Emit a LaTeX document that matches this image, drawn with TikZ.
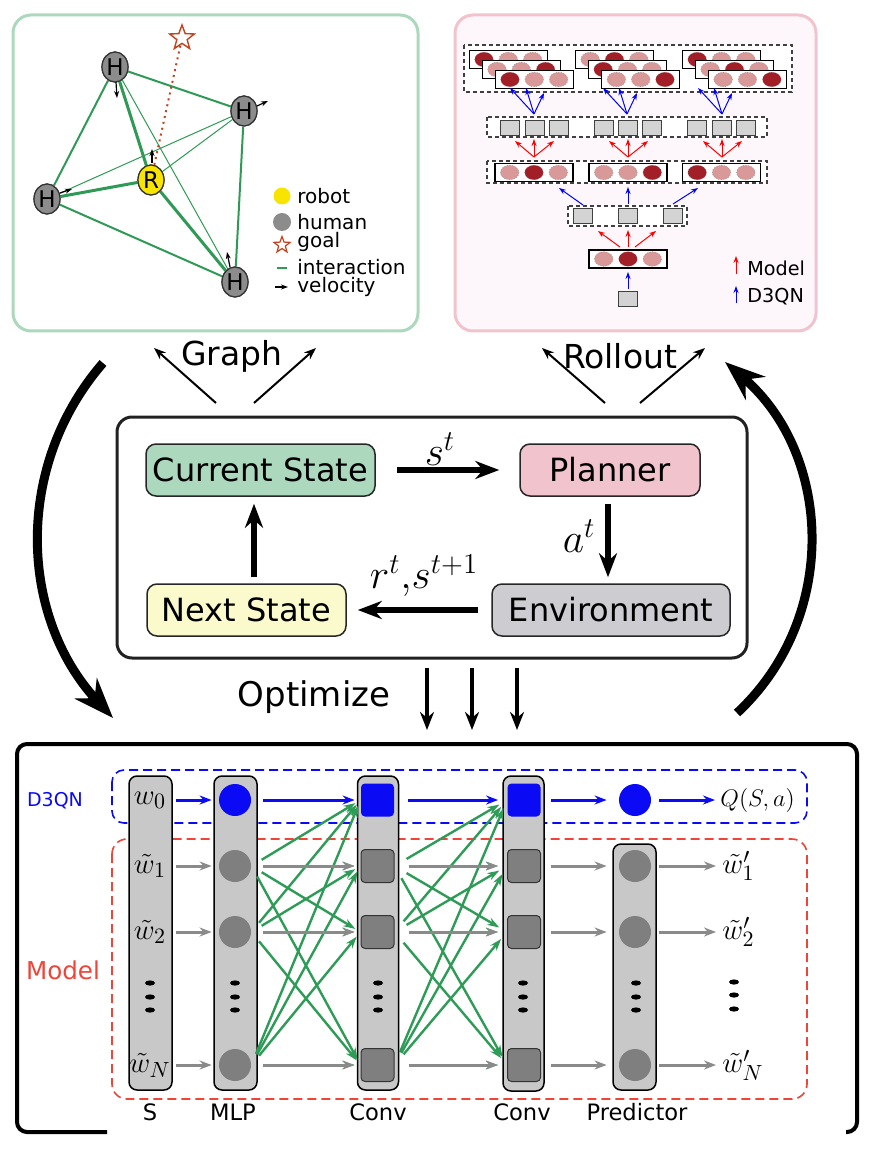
\documentclass[tikz,border=0pt]{standalone}
\usepackage{fontspec}
\setmainfont{DejaVu Sans}
\usetikzlibrary{arrows.meta,shapes.geometric,calc}
\definecolor{pgreen}{HTML}{ACD8BE}
\definecolor{ppink}{HTML}{F1C3CC}
\definecolor{pbg}{HTML}{FDF7FB}
\definecolor{nyellow}{HTML}{FAFACD}
\definecolor{ngray}{HTML}{CDCDD1}
\definecolor{egreen}{HTML}{2F9A55}
\definecolor{hgray}{HTML}{8C8C8C}
\definecolor{ryellow}{HTML}{F7E400}
\definecolor{goalred}{HTML}{C4421C}
\definecolor{rdark}{HTML}{A31F27}
\definecolor{rlight}{HTML}{D99999}
\definecolor{sqgray}{HTML}{D3D3D3}
\definecolor{colgray}{HTML}{C8C8C8}
\definecolor{nodegray}{HTML}{7F7F7F}
\definecolor{arrgray}{HTML}{8A8A8A}
\definecolor{qblue}{HTML}{0A0AF5}
\definecolor{mred}{HTML}{F04438}
\definecolor{dgreen}{HTML}{2E9B57}
\newcommand\rlbox[3]{%
  \draw[fill=white,draw=black,line width=0.6pt] (#1-39,#2-9) rectangle (#1+39,#2+9);
  \foreach \k in {1,2,3}{%
    \ifnum\k=#3\relax\def\cc{rdark}\else\def\cc{rlight}\fi
    \draw[fill=\cc,draw=black!45,line width=0.3pt,densely dotted] (#1+\k*24.3-48.6,#2) ellipse [x radius=9.3,y radius=7.3];
  }}
\newcommand\rlsq[2]{\draw[fill=sqgray,draw=black!75,line width=0.6pt] (#1-9.5,#2-7.5) rectangle (#1+9.5,#2+7.5);}
\begin{document}
\begin{tikzpicture}[x=0.5pt,y=-0.5pt,
  hnode/.style={ellipse,draw=black!80,line width=0.6pt,fill=hgray,minimum width=13pt,minimum height=15pt,inner sep=0pt,font=\fontsize{11.5}{13}\selectfont},
  ethick/.style={egreen,line width=1.5pt},
  emed/.style={egreen,line width=1pt},
  ethin/.style={egreen,line width=0.5pt},
  vel/.style={black,line width=0.6pt,-{Stealth[length=3.5pt,width=2.5pt]}},
  leg/.style={anchor=west,inner sep=0pt,font=\fontsize{10}{12}\selectfont},
  rldash/.style={dashed,dash pattern=on 2pt off 1.5pt,draw=black!75,line width=0.6pt,fill=white},
  ra/.style={draw=red,line width=0.5pt,-{Stealth[length=3.5pt,width=2.5pt]}},
  ba/.style={draw=blue,line width=0.5pt,-{Stealth[length=3.5pt,width=2.5pt]}},
  sbox/.style={draw=black!85,line width=0.75pt,rounded corners=5pt,minimum height=26pt,inner sep=0pt,font=\fontsize{16}{19}\selectfont},
  thk/.style={line width=3pt,-{Stealth[length=12pt,width=9pt]}},
  thin/.style={line width=1pt,-{Stealth[length=6pt,width=4.5pt]}},
  bigarc/.style={line width=4.5pt,-{Stealth[length=20pt,width=15pt]}},
  mlab/.style={font=\fontsize{20}{24}\selectfont,inner sep=0pt},
  bigtxt/.style={font=\fontsize{16.5}{19}\selectfont,inner sep=0pt},
  col/.style={draw=black,line width=0.75pt,fill=colgray,rounded corners=4pt,inner sep=0pt},
  bcirc/.style={circle,fill=qblue,minimum size=16pt,inner sep=0pt},
  gcirc/.style={circle,fill=nodegray,minimum size=16pt,inner sep=0pt},
  bsq/.style={rectangle,fill=qblue,rounded corners=2pt,minimum size=16.5pt,inner sep=0pt},
  gsq/.style={rectangle,fill=nodegray,draw=black!80,line width=0.5pt,rounded corners=2pt,minimum size=16.5pt,inner sep=0pt},
  wlab/.style={font=\fontsize{15}{18}\selectfont,inner sep=0pt},
  olab/.style={font=\fontsize{15}{18}\selectfont,inner sep=0pt,anchor=west},
  barr/.style={draw=qblue,line width=1.5pt,-{Stealth[length=6pt,width=4.5pt]}},
  garr/.style={draw=arrgray,line width=1.5pt,-{Stealth[length=6pt,width=4.5pt]}},
  grarr/.style={draw=dgreen,line width=1.2pt,-{Stealth[length=6pt,width=4pt]}},
  blab/.style={font=\fontsize{11.3}{13}\selectfont,inner sep=0pt}
]
\useasboundingbox (0,0) rectangle (877,1154);

% ---------------- Graph panel ----------------
\draw[draw=pgreen,line width=1.5pt,rounded corners=9pt,fill=white] (13,15) rectangle (418,331);
\node[hnode] (h1) at (115,67) {H};
\node[hnode] (h2) at (244,111) {H};
\node[hnode] (h3) at (47,199) {H};
\node[hnode] (h4) at (235,282) {H};
\node[hnode,fill=ryellow] (r) at (151,180) {R};
\node[star,star points=5,star point ratio=2.4,draw=goalred,line width=0.7pt,minimum size=13pt,inner sep=0pt] (goal) at (182,38) {};
\draw[emed] (h1) -- (h2);
\draw[emed] (h1) -- (h3);
\draw[ethick] (h1) -- (r);
\draw[ethin] (h1) -- (h4);
\draw[ethin] (h2) -- (h3);
\draw[ethin] (h2) -- (r);
\draw[emed] (h2) -- (h4);
\draw[ethick] (h3) -- (r);
\draw[emed] (h3) -- (h4);
\draw[ethick] (r) -- (h4);
\draw[goalred,dotted,line width=1pt] (r) -- (goal);
\node[hnode] at (h1) {H};
\node[hnode] at (h2) {H};
\node[hnode] at (h3) {H};
\node[hnode] at (h4) {H};
\node[hnode,fill=ryellow] at (r) {R};
\draw[vel] ($(h1)+(1,15)$) -- ++(1,16);
\draw[vel] ($(h2)+(13,-5)$) -- ++(11,-5);
\draw[vel] ($(h3)+(13,-6)$) -- ++(12,-4);
\draw[vel] ($(h4)+(-5,-15)$) -- ++(-3,-15);
\draw[vel] ($(r)+(1,-17)$) -- ++(0,-14);
% legend
\node[circle,fill=ryellow,minimum size=8.5pt,inner sep=0pt] (lr) at (282,196) {};
\node[leg] (lrt) at (297,196) {robot};
\node[circle,fill=hgray,minimum size=9pt,inner sep=0pt] (lh) at (282,222) {};
\node[leg] (lht) at (297,222) {human};
\node[star,star points=5,star point ratio=2.4,draw=goalred,line width=0.6pt,minimum size=8.5pt,inner sep=0pt] (lg) at (282,245) {};
\node[leg] (lgt) at (297,242) {goal};
\coordinate (li1) at (277,268); \coordinate (li2) at (287,268);
\draw[egreen,line width=1.2pt] (li1) -- (li2);
\node[leg] (lit) at (297,267) {interaction};
\coordinate (lv1) at (275,287); \coordinate (lv2) at (288,287);
\draw[vel] (lv1) -- (lv2);
\node[leg] (lvt) at (297,287) {velocity};

% ---------------- Rollout panel ----------------
\draw[draw=ppink,line width=1.5pt,rounded corners=9pt,fill=pbg] (455,15) rectangle (816,331);
\draw[rldash] (464,45) rectangle (792,92);
\rlbox{508.3}{59.5}{1}\rlbox{521.3}{69.5}{3}\rlbox{534.3}{79.5}{1}
\rlbox{614.5}{59.5}{2}\rlbox{627.5}{69.5}{1}\rlbox{640.7}{79.5}{3}
\rlbox{721.5}{59.5}{1}\rlbox{734.5}{69.5}{2}\rlbox{747.5}{79.5}{3}
\foreach \cx in {534,627,722}{
  \draw[ba] (\cx,114) -- (\cx-24,88);
  \draw[ba] (\cx,114) -- (\cx-8,88);
  \draw[ba] (\cx,114) -- (\cx+10,93);
}
\draw[rldash] (487,117) rectangle (767,137);
\foreach \sx in {510,535,559,604,628,652,697,722,746}{\rlsq{\sx}{128}}
\foreach \cx in {534,628,722}{
  \draw[ra] (\cx,157) -- (\cx-19,141);
  \draw[ra] (\cx,157) -- (\cx,139);
  \draw[ra] (\cx,157) -- (\cx+20,141);
}
\draw[rldash] (487,161) rectangle (767,183);
\rlbox{534}{172.5}{2}\rlbox{628}{172.5}{3}\rlbox{721.5}{172.5}{1}
\draw[ba] (583,205) -- (559,188);
\draw[ba] (628,204) -- (628,187);
\draw[ba] (673,204) -- (698,188);
\draw[rldash] (568,206) rectangle (687,226);
\rlsq{583}{216}\rlsq{628}{216}\rlsq{673}{216}
\draw[ra] (620,247) -- (598,231);
\draw[ra] (628,247) -- (628,230);
\draw[ra] (635,247) -- (656,231);
\rlbox{628}{259}{2}
\draw[ba] (628,289) -- (628,272);
\rlsq{628}{299}
\draw[ra] (736,274) -- (736,256);
\node[anchor=west,inner sep=0pt,font=\fontsize{9.6}{11}\selectfont] (lm) at (747,268) {Model};
\draw[ba] (736,303) -- (736,286);
\node[anchor=west,inner sep=0pt,font=\fontsize{9.6}{11}\selectfont] (ld) at (747,297) {D3QN};

% ---------------- middle ----------------
\node[bigtxt] (graph) at (232,356) {Graph};
\node[bigtxt] (roll) at (620,356) {Rollout};
\coordinate (ga) at (216,403); \coordinate (gb) at (154,348);
\coordinate (gc) at (254,403); \coordinate (gd) at (316,348);
\coordinate (ra1) at (605,403); \coordinate (rb) at (542,348);
\coordinate (rc) at (640,403); \coordinate (rd) at (705,348);
\draw[thin] (ga) -- (gb);
\draw[thin] (gc) -- (gd);
\draw[thin] (ra1) -- (rb);
\draw[thin] (rc) -- (rd);

\coordinate (la1) at (103,363); \coordinate (la2) at (113,718);
\draw[bigarc] (la1) .. controls (13,467) and (20,617) .. (la2);
\coordinate (ra2) at (737,713); \coordinate (ra3) at (725,362);
\draw[bigarc] (ra2) .. controls (840,617) and (832,454) .. (ra3);

\draw[draw=black!87,line width=1.5pt,rounded corners=7.5pt] (117,417) rectangle (747,658);
\node[sbox,fill=pgreen,minimum width=114.5pt] (cs) at (260.5,470) {Current State};
\node[sbox,fill=ppink,minimum width=90pt] (pl) at (610,470) {Planner};
\node[sbox,fill=nyellow,minimum width=99.5pt] (ns) at (246.5,610) {Next State};
\node[sbox,fill=ngray,minimum width=119pt] (env) at (611,610) {Environment};
\draw[thk,shorten <=10.5pt,shorten >=10pt] (cs.east) -- (pl.west);
\draw[thk,shorten <=3.5pt,shorten >=3pt] ([xshift=-1pt]pl.south) -- ([xshift=-1.5pt]env.north);
\draw[thk,shorten <=6.5pt,shorten >=5.5pt] (env.west) -- (ns.east);
\draw[thk,shorten <=3pt,shorten >=3.5pt] ([xshift=3.75pt]ns.north) -- ([xshift=-3.25pt]cs.south);
\node[mlab] (st) at (440,449) {$s^t$};
\node[mlab] (at) at (579,536) {$a^t$};
\node[mlab] (rt) at (424,576) {$r^t{,}s^{t+1}$};

\node[font=\fontsize{17}{20}\selectfont,inner sep=0pt] (opt) at (314,697) {Optimize};
\coordinate (o1a) at (427,668); \coordinate (o1b) at (427,730);
\coordinate (o2a) at (472,668); \coordinate (o2b) at (472,730);
\coordinate (o3a) at (517,668); \coordinate (o3b) at (517,730);
\draw[line width=2pt,-{Stealth[length=9pt,width=7pt]}] (o1a) -- (o1b);
\draw[line width=2pt,-{Stealth[length=9pt,width=7pt]}] (o2a) -- (o2b);
\draw[line width=2pt,-{Stealth[length=9pt,width=7pt]}] (o3a) -- (o3b);

% ---------------- bottom ----------------
\draw[line width=2pt,rounded corners=5pt] (107,1132) -- (17,1132) -- (17,744) -- (857,744) -- (857,1132) -- (846,1132);
\draw[qblue,line width=0.8pt,dash pattern=on 4.5pt off 2.5pt,rounded corners=6pt] (112,770) rectangle (807,823);
\draw[mred,line width=0.8pt,dash pattern=on 4.5pt off 2.5pt,rounded corners=7.5pt] (112,839) rectangle (807,1099);
\node[text=qblue,font=\fontsize{9.5}{11}\selectfont,inner sep=0pt] (d3) at (55,801) {D3QN};
\node[text=mred,font=\fontsize{12.3}{14}\selectfont,inner sep=0pt] (mo) at (63,970) {Model};

\node[col,minimum width=21.5pt,minimum height=157pt] (cS) at (150.5,933) {};
\node[col,minimum width=21.5pt,minimum height=157pt] (cM) at (235.5,933) {};
\node[col,minimum width=20.5pt,minimum height=157pt] (cC) at (378,933) {};
\node[col,minimum width=20.5pt,minimum height=157.5pt] (cD) at (523.5,933.5) {};
\node[col,minimum width=21.5pt,minimum height=123pt] (cP) at (634.5,967) {};

\node[wlab] (s0) at (150,800) {$w_0$};
\node[wlab] (s1) at (150,866) {$\tilde{w}_1$};
\node[wlab] (s2) at (150,932) {$\tilde{w}_2$};
\node[wlab] (sN) at (150,1065) {$\tilde{w}_N$};

\node[bcirc] (m0) at (235,800) {};
\node[gcirc] (m1) at (235,866) {};
\node[gcirc] (m2) at (235,932) {};
\node[gcirc] (mN) at (235,1065) {};
\node[bsq] (c0) at (377.5,800) {};
\node[gsq] (c1) at (377.5,866) {};
\node[gsq] (c2) at (377.5,932) {};
\node[gsq] (cN) at (377.5,1065) {};
\node[bsq] (d0) at (524,800) {};
\node[gsq] (d1) at (524,866) {};
\node[gsq] (d2) at (524,932) {};
\node[gsq] (dN) at (524,1065) {};
\node[bcirc] (p0) at (635,800) {};
\node[gcirc] (p1) at (635,866) {};
\node[gcirc] (p2) at (635,932) {};
\node[gcirc] (pN) at (635,1065) {};
\node[olab,font=\fontsize{12}{14}\selectfont] (q) at (720,800) {$Q(S,a)$};
\node[olab] (w1) at (722,866) {$\tilde{w}'_1$};
\node[olab] (w2) at (722,932) {$\tilde{w}'_2$};
\node[olab] (wN) at (722,1065) {$\tilde{w}'_N$};

% green all-to-all
\foreach \s in {m1,m2,mN}{\foreach \t in {c0,c1,c2,cN}{
  \draw[grarr,shorten <=6pt,shorten >=3pt] (\s.east) -- (\t.west);}}
\foreach \s in {c1,c2,cN}{\foreach \t in {d0,d1,d2,dN}{
  \draw[grarr,shorten <=7pt,shorten >=4.5pt] (\s.east) -- (\t.west);}}
% gray rows
\foreach \m/\c/\d/\p/\w in {m1/c1/d1/p1/w1,m2/c2/d2/p2/w2,mN/cN/dN/pN/wN}{
  \draw[garr,shorten <=1.5pt,shorten >=3.5pt] (cS.east |- \m) -- (\m.west);
  \draw[garr,shorten <=6pt,shorten >=3pt] (\m.east) -- (\c.west);
  \draw[garr,shorten <=7pt,shorten >=4.5pt] (\c.east) -- (\d.west);
  \draw[garr,shorten <=5pt,shorten >=6pt] (\d.east) -- (\p.west);
  \draw[garr,shorten <=4pt,shorten >=3pt] (\p.east) -- (\p.east -| \w.west);
}
% blue row
\draw[barr,shorten <=1.5pt,shorten >=3.5pt] (cS.east |- m0) -- (m0.west);
\draw[barr,shorten <=6pt,shorten >=3pt] (m0.east) -- (c0.west);
\draw[barr,shorten <=7pt,shorten >=4.5pt] (c0.east) -- (d0.west);
\draw[barr,shorten <=5pt,shorten >=6pt] (d0.east) -- (p0.west);
\draw[barr,shorten <=4pt,shorten >=2.5pt] (p0.east) -- (p0.east -| q.west);
% dots
\foreach \xx in {150,235,378,523,636}{\foreach \yy in {983,997,1010}{
  \fill (\xx,\yy) ellipse [x radius=5,y radius=2.6];}}
\foreach \yy in {982,995,1009}{\fill (734,\yy) ellipse [x radius=5,y radius=2.6];}

\node[blab] (lS) at (150,1112) {S};
\node[blab] (lM) at (233,1112) {MLP};
\node[blab] (lC) at (378,1112) {Conv};
\node[blab] (lD) at (522,1112) {Conv};
\node[blab] (lP) at (637,1112) {Predictor};
\end{tikzpicture}
\end{document}
